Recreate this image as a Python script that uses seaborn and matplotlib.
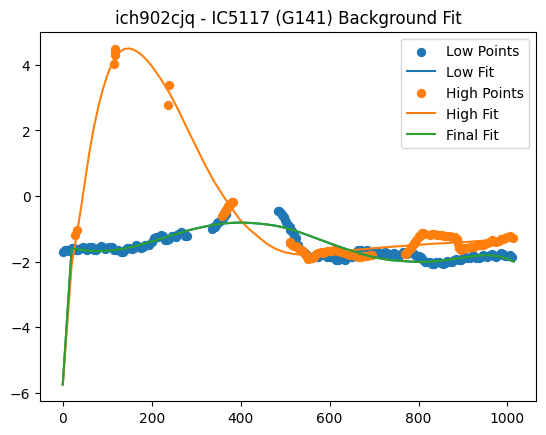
import matplotlib
matplotlib.use("Agg")
import matplotlib.pyplot as plt
import seaborn as sns
import numpy as np

title = "ich902cjq - IC5117 (G141) Background Fit"

# Low (blue) points - main row
low_x = [0, 10, 20, 30, 40, 50, 60, 70, 80, 90, 100, 110, 120, 130, 140, 150, 160, 170, 180, 190,
         200, 210, 220, 230, 240, 250, 260, 270, 280,
         335, 340, 345, 350, 355, 360, 365, 368,
         485, 490, 495, 500, 505, 510, 515, 520, 525,
         530, 540, 550, 560, 570, 580, 590, 600, 610, 620, 630, 640, 650, 660, 670, 680, 690, 700,
         710, 720, 730, 740, 750, 760, 770, 780, 790, 800, 810, 820, 830, 840, 850, 860, 870, 880,
         890, 900, 910, 920, 930, 940, 950, 960, 970, 980, 990, 1000, 1010]
low_y = [-1.72, -1.66, -1.60, -1.66, -1.58, -1.63, -1.57, -1.64, -1.58, -1.55, -1.60, -1.57, -1.66,
         -1.72, -1.64, -1.60, -1.58, -1.52, -1.57, -1.50, -1.40, -1.25, -1.20, -1.33, -1.30, -1.22,
         -1.17, -1.12, -1.22,
         -1.02, -0.95, -0.88, -0.80, -0.74, -0.66, -0.58, -0.53,
         -0.45, -0.53, -0.62, -0.72, -0.84, -0.96, -1.08, -1.20, -1.28,
         -1.50, -1.70, -1.80, -1.88, -1.84, -1.80, -1.80, -1.85, -1.90, -1.95, -1.92, -1.90, -1.85,
         -1.72, -1.65, -1.68, -1.72, -1.75,
         -1.72, -1.76, -1.73, -1.78, -1.80, -1.77, -1.74, -1.72, -1.76, -1.84, -1.95, -2.02, -2.06,
         -2.02, -2.05, -2.04, -2.00, -1.96, -1.95, -1.90, -1.88, -1.84, -1.88, -1.85, -1.82, -1.80,
         -1.84, -1.80, -1.78, -1.82, -1.86]
# Low (blue) points - in-between row
low_x_b = [5, 15, 25, 35, 45, 55, 65, 75, 85, 95, 105, 115, 125, 135, 145, 155, 165, 175, 185, 195,
           205, 215, 225, 235, 245, 255, 265, 275,
           337, 342, 347, 352, 357, 362, 366,
           487, 492, 497, 502, 507, 512, 517, 522,
           535, 545, 555, 565, 575, 585, 595, 605, 615, 625, 635, 645, 655, 665, 675, 685, 695,
           705, 715, 725, 735, 745, 755, 765, 775, 785, 795, 805, 815, 825, 835, 845, 855, 865,
           875, 885, 895, 905, 915, 925, 935, 945, 955, 965, 975, 985, 995, 1005]
low_y_b = [-1.65, -1.67, -1.59, -1.66, -1.57, -1.64, -1.57, -1.65, -1.53, -1.61, -1.55, -1.65,
           -1.65, -1.72, -1.58, -1.63, -1.51, -1.58, -1.50, -1.49, -1.29, -1.26, -1.23, -1.35,
           -1.22, -1.24, -1.11, -1.21,
           -0.96, -0.94, -0.82, -0.79, -0.68, -0.64, -0.54,
           -0.47, -0.59, -0.65, -0.80, -0.88, -1.04, -1.12, -1.26,
           -1.64, -1.73, -1.88, -1.82, -1.86, -1.76, -1.86, -1.84, -1.96, -1.90, -1.95, -1.84,
           -1.82, -1.65, -1.70, -1.66, -1.77,
           -1.70, -1.78, -1.71, -1.79, -1.75, -1.82, -1.72, -1.77, -1.70, -1.84, -1.86, -2.02,
           -2.00, -2.08, -2.00, -2.08, -1.98, -2.02, -1.92, -1.96, -1.85, -1.90, -1.82, -1.90,
           -1.80, -1.85, -1.78, -1.86, -1.75, -1.84, -1.80]

# High (orange) points - main row
high_x = [27, 33, 116, 117, 118, 118, 237, 238,
          358, 362, 366, 370, 374, 378, 382,
          510, 515, 520, 530, 540, 545, 550, 555, 560, 570, 580, 590, 600, 610, 620, 630, 640, 650,
          660, 670, 680, 690,
          770, 775, 780, 785, 790, 795, 800, 805, 810, 825, 835, 848, 858, 870, 882, 887, 889, 891,
          895, 905, 915, 925, 935, 945, 955, 965, 975, 985, 995, 1005, 1012]
high_y = [-1.18, -1.05, 4.02, 4.30, 4.40, 4.48, 2.77, 3.38,
          -0.60, -0.52, -0.45, -0.38, -0.30, -0.22, -0.17,
          -1.40, -1.48, -1.52, -1.60, -1.68, -1.78, -1.86, -1.90, -1.90, -1.78, -1.72, -1.70, -1.68,
          -1.65, -1.68, -1.72, -1.78, -1.80, -1.84, -1.85, -1.82, -1.80,
          -1.78, -1.70, -1.62, -1.52, -1.44, -1.35, -1.26, -1.18, -1.12, -1.18, -1.17, -1.18, -1.22,
          -1.23, -1.25, -1.32, -1.45, -1.58, -1.65, -1.60, -1.55, -1.55, -1.50, -1.48, -1.42, -1.35,
          -1.40, -1.32, -1.28, -1.22, -1.28]
# High (orange) points - in-between row
high_x_b = [360, 364, 368, 372, 376, 380,
            512, 525, 535, 548, 552, 565, 575, 585, 595, 605, 615, 625, 635, 645, 655, 665, 675,
            685, 695,
            772, 782, 792, 802, 808, 815, 830, 842, 853, 865, 876, 900, 910, 920, 930, 940, 950,
            960, 970, 980, 990, 1000, 1008]
high_y_b = [-0.58, -0.47, -0.43, -0.32, -0.27, -0.18,
            -1.44, -1.52, -1.65, -1.80, -1.92, -1.86, -1.73, -1.73, -1.67, -1.68, -1.64, -1.72,
            -1.73, -1.81, -1.80, -1.87, -1.82, -1.84, -1.79,
            -1.76, -1.58, -1.42, -1.22, -1.13, -1.16, -1.15, -1.20, -1.18, -1.21, -1.26, -1.61,
            -1.58, -1.55, -1.51, -1.50, -1.45, -1.40, -1.36, -1.37, -1.30, -1.26, -1.24]

# Fits
fit_x = [0, 20, 40, 60, 80, 100, 120, 140, 160, 180, 200, 220, 240, 260, 280, 300, 320, 340, 360,
         380, 400, 420, 440, 460, 480, 500, 520, 540, 560, 580, 600, 620, 640, 660, 680, 700, 720,
         740, 760, 780, 800, 820, 840, 860, 880, 900, 920, 940, 960, 980, 1000, 1014]
final_y = [-5.75, -1.60, -1.64, -1.67, -1.68, -1.67, -1.64, -1.60, -1.54, -1.47, -1.39, -1.31,
           -1.22, -1.14, -1.06, -0.99, -0.93, -0.88, -0.84, -0.82, -0.81, -0.82, -0.84, -0.87,
           -0.91, -0.97, -1.05, -1.14, -1.24, -1.34, -1.44, -1.54, -1.63, -1.71, -1.80, -1.87,
           -1.92, -1.96, -1.98, -2.00, -2.01, -2.01, -1.99, -1.96, -1.92, -1.88, -1.84, -1.81,
           -1.81, -1.84, -1.91, -2.00]
low_fit_y = list(final_y)

high_fit_x = [0, 20, 30, 40, 50, 60, 70, 80, 90, 100, 110, 120, 130, 140, 150, 160, 170, 180, 190,
              200, 220, 240, 260, 280, 300, 320, 340, 360, 380, 400, 420, 440, 460, 480, 500, 520,
              540, 560, 580, 600, 620, 640, 660, 680, 700, 720, 740, 760, 780, 800, 820, 840, 860,
              880, 900, 920, 940, 960, 980, 1000, 1014]
high_fit_y = [-5.75, -2.10, -1.30, -0.45, 0.45, 1.35, 2.10, 2.72, 3.25, 3.68, 4.02, 4.27, 4.42,
              4.49, 4.50, 4.46, 4.38, 4.27, 4.13, 3.97, 3.58, 3.14, 2.62, 2.05, 1.50, 0.95, 0.45,
              0.02, -0.38, -0.75, -1.02, -1.25, -1.47, -1.62, -1.72, -1.77, -1.79, -1.78, -1.76,
              -1.73, -1.70, -1.67, -1.64, -1.62, -1.59, -1.57, -1.55, -1.53, -1.51, -1.49, -1.47,
              -1.45, -1.44, -1.42, -1.41, -1.39, -1.37, -1.35, -1.33, -1.31, -1.29]

low_px = np.array(low_x + low_x_b)
low_py = np.array(low_y + low_y_b)
high_px = np.array(high_x + high_x_b)
high_py = np.array(high_y + high_y_b)

fig, ax = plt.subplots(figsize=(6.4, 4.8), dpi=100)

sns.scatterplot(x=low_px, y=low_py, ax=ax, color="C0", s=45, linewidth=0, label="Low Points")
sns.lineplot(x=np.array(fit_x), y=np.array(low_fit_y), ax=ax, color="C0", estimator=None,
             sort=False, linewidth=1.5, label="Low Fit")
sns.scatterplot(x=high_px, y=high_py, ax=ax, color="C1", s=45, linewidth=0, label="High Points")
sns.lineplot(x=np.array(high_fit_x), y=np.array(high_fit_y), ax=ax, color="C1", estimator=None,
             sort=False, linewidth=1.5, label="High Fit")
sns.lineplot(x=np.array(fit_x), y=np.array(final_y), ax=ax, color="C2", estimator=None,
             sort=False, linewidth=1.5, label="Final Fit")

ax.set_xlabel("")
ax.set_ylabel("")
ax.set_title(title)
ax.legend(loc="upper right")

fig.savefig("out.png", dpi=100, bbox_inches="tight")
